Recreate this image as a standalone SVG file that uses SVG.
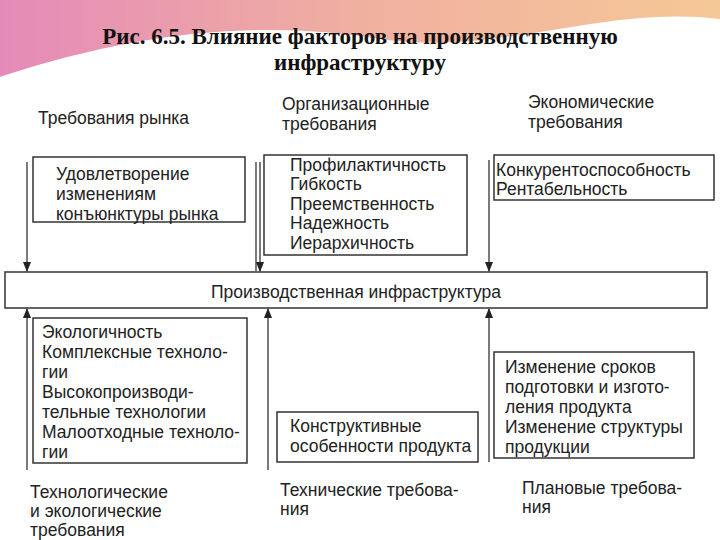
<svg xmlns="http://www.w3.org/2000/svg" width="720" height="540" viewBox="0 0 720 540">
<defs>
<linearGradient id="bg" x1="0" y1="0" x2="1" y2="0"><stop offset="0" stop-color="#e58ab8"/><stop offset="0.5" stop-color="#f0b0a0"/><stop offset="1" stop-color="#f5c896"/></linearGradient>
<marker id="ar" viewBox="0 0 10 10" refX="9" refY="5" markerWidth="8" markerHeight="8" orient="auto-start-reverse"><path d="M0,1 L10,5 L0,9 z" fill="#222"/></marker>
<style>
.t{font-family:"Liberation Sans",Arial,sans-serif;font-size:17.5px;fill:#222}
.h{font-family:"Liberation Serif","Times New Roman",serif;font-size:23px;font-weight:bold;fill:#111;text-anchor:middle}
.b{fill:#fff;stroke:#333;stroke-width:1.5}
.c{stroke:#333;stroke-width:1.3;fill:none}
</style>
</defs>
<rect width="720" height="540" fill="#fff"/>
<path d="M0,0 H720 V20 C600,5 500,60 380,40 C250,20 100,40 0,80 Z" fill="url(#bg)"/>
<path d="M0,80 C120,40 250,20 380,42 C500,60 600,8 720,22" fill="none" stroke="#fff" stroke-width="6"/>
<text class="h" x="360" y="44">Рис. 6.5.  Влияние факторов на производственную</text>
<text class="h" x="360" y="70">инфраструктуру</text>
<g id="labels">
<text class="t" x="38" y="124">Требования рынка</text>
<text class="t" x="282" y="110">Организационные</text><text class="t" x="282" y="130">требования</text>
<text class="t" x="528" y="108">Экономические</text><text class="t" x="528" y="128">требования</text>
<text class="t" x="30" y="498">Технологические</text><text class="t" x="30" y="517">и экологические</text><text class="t" x="30" y="536">требования</text>
<text class="t" x="280" y="496">Технические требова-</text><text class="t" x="280" y="515">ния</text>
<text class="t" x="522" y="494">Плановые требова-</text><text class="t" x="522" y="513">ния</text>
</g>
<g id="n1"><rect class="b" x="33" y="157" width="212" height="65"/>
<text class="t" x="56" y="180">Удовлетворение</text><text class="t" x="56" y="200">изменениям</text><text class="t" x="56" y="220">конъюнктуры рынка</text></g>
<g id="n2"><rect class="b" x="264" y="155" width="203" height="100"/>
<text class="t" x="290" y="171">Профилактичность</text><text class="t" x="290" y="190">Гибкость</text><text class="t" x="290" y="210">Преемственность</text><text class="t" x="290" y="229">Надежность</text><text class="t" x="290" y="249">Иерархичность</text></g>
<g id="n3"><rect class="b" x="494" y="155" width="220" height="45"/>
<text class="t" x="496" y="176">Конкурентоспособность</text><text class="t" x="496" y="195">Рентабельность</text></g>
<g id="main"><rect class="b" x="5" y="272" width="702" height="36"/>
<text class="t" x="356" y="298" text-anchor="middle">Производственная инфраструктура</text></g>
<g id="n4"><rect class="b" x="33" y="318" width="214" height="145"/>
<text class="t" x="42" y="338">Экологичность</text><text class="t" x="42" y="358">Комплексные техноло-</text><text class="t" x="42" y="378">гии</text><text class="t" x="42" y="398">Высокопроизводи-</text><text class="t" x="42" y="418">тельные технологии</text><text class="t" x="42" y="438">Малоотходные техноло-</text><text class="t" x="42" y="458">гии</text></g>
<g id="n5"><rect class="b" x="277" y="412" width="201" height="50"/>
<text class="t" x="290" y="432">Конструктивные</text><text class="t" x="290" y="452">особенности продукта</text></g>
<g id="n6"><rect class="b" x="494" y="352" width="200" height="106"/>
<text class="t" x="505" y="373">Изменение сроков</text><text class="t" x="505" y="393">подготовки и изгото-</text><text class="t" x="505" y="413">ления продукта</text><text class="t" x="505" y="433">Изменение структуры</text><text class="t" x="505" y="453">продукции</text></g>
<g id="connectors">
<line class="c" x1="27" y1="162" x2="27" y2="271" marker-end="url(#ar)"/>
<line class="c" x1="256" y1="162" x2="256" y2="271"/>
<line class="c" x1="260" y1="162" x2="260" y2="271" marker-end="url(#ar)"/>
<line class="c" x1="489" y1="160" x2="489" y2="271" marker-end="url(#ar)"/>
<line class="c" x1="27" y1="470" x2="27" y2="309" marker-end="url(#ar)"/>
<line class="c" x1="268" y1="470" x2="268" y2="309" marker-end="url(#ar)"/>
<line class="c" x1="489" y1="462" x2="489" y2="309" marker-end="url(#ar)"/>
</g>
</svg>
